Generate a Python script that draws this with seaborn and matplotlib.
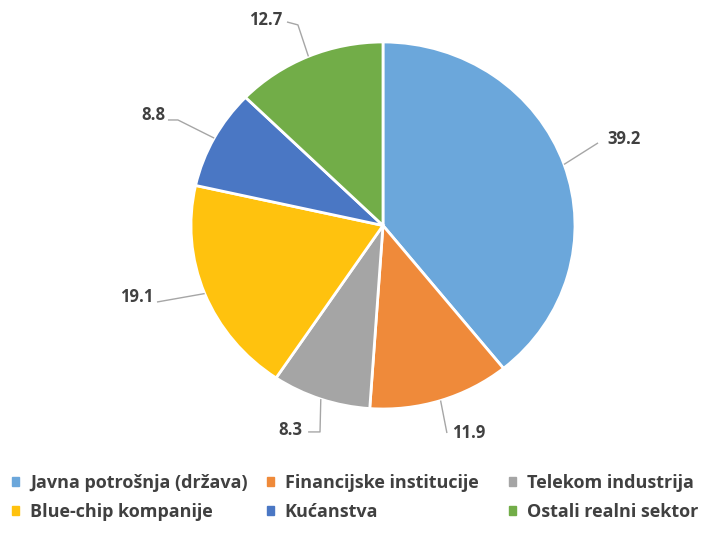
import matplotlib
matplotlib.use("Agg")
import matplotlib.pyplot as plt
import matplotlib.patches as mpatches
import numpy as np
import seaborn as sns

categories = ["Javna potrošnja (država)", "Financijske institucije", "Telekom industrija",
              "Blue-chip kompanije", "Kućanstva", "Ostali realni sektor"]
values = [39.2, 11.9, 8.3, 19.1, 8.8, 12.7]
colors = ["#6BA7DB", "#EF8A3A", "#A5A5A5", "#FFC20E", "#4A77C4", "#72AD48"]

# label placement (data units, pie radius = 1): elbow points of leader lines and text anchors
label_elbows = [[(1.12, 0.45)],
                [(0.333, -1.131)],
                [(-0.328, -1.125), (-0.39, -1.125)],
                [(-1.177, -0.417)],
                [(-1.068, 0.575), (-1.12, 0.575)],
                [(-0.443, 1.093), (-0.50, 1.109)]]
label_text = [(1.17, 0.47, "left"), (0.36, -1.131, "left"), (-0.422, -1.114, "right"),
              (-1.198, -0.392, "right"), (-1.135, 0.602, "right"), (-0.526, 1.12, "right")]

sns.set_theme(style="white")
plt.rcParams["font.family"] = ["Open Sans", "DejaVu Sans"]
palette = sns.color_palette(colors)

fig = plt.figure(figsize=(7.13, 5.33), dpi=100)
ax = fig.add_axes([0.2140, 0.1638, 0.6463, 0.8263])

wedges, _ = ax.pie(values, colors=palette, startangle=90, counterclock=False,
                   wedgeprops=dict(edgecolor="white", linewidth=2))
ax.set_aspect("auto")
ax.set_xlim(-1.2, 1.2)
ax.set_ylim(-1.2, 1.2)

for w, v, elbows, (tx, ty, ha) in zip(wedges, values, label_elbows, label_text):
    mid = np.deg2rad((w.theta1 + w.theta2) / 2)
    xs = [np.cos(mid)] + [p[0] for p in elbows]
    ys = [np.sin(mid)] + [p[1] for p in elbows]
    ax.plot(xs, ys, color="#A6A6A6", lw=1, solid_capstyle="butt")
    ax.text(tx, ty, f"{v:.1f}", ha=ha, va="center", fontsize=12,
            fontweight="bold", color="#404040")

# legend: three equal-width columns, filled row by row
col_x = [0.017, 0.374, 0.714]
for i, x0 in enumerate(col_x):
    handles = [mpatches.Patch(color=palette[i]), mpatches.Patch(color=palette[i + 3])]
    labels = [categories[i], categories[i + 3]]
    leg = fig.legend(handles, labels, loc="upper left", bbox_to_anchor=(x0, 0.111),
                     frameon=False, fontsize=13, handlelength=0.4, handleheight=0.4,
                     handletextpad=0.6, labelspacing=0.62, borderaxespad=0,
                     borderpad=0)
    for t in leg.get_texts():
        t.set_fontweight("bold")
        t.set_color("#404040")

fig.savefig("out.png", dpi=100)
